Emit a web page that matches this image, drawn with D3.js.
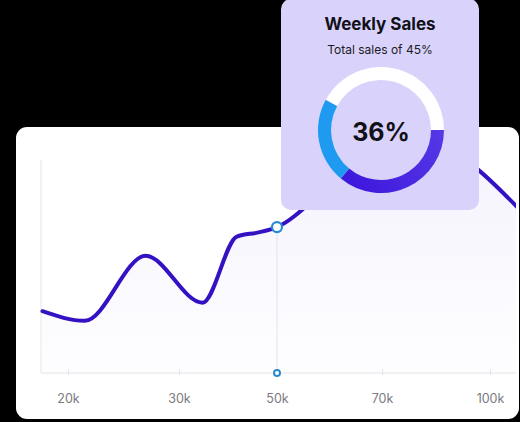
<!DOCTYPE html>
<html>
<head>
<meta charset="utf-8">
<script src="https://cdn.jsdelivr.net/npm/d3@7"></script>
<style>
  html, body { margin: 0; padding: 0; background: #000; }
  svg { display: block; font-family: Inter, "Open Sans", sans-serif; }
</style>
</head>
<body>
<div id="chart"></div>
<script>
// x categories and the sales curve, x given in category index units
const categories = ["20k", "30k", "50k", "70k", "100k"];
const curveX = [-0.23, 0.15, 0.7, 1.24, 1.59, 1.81, 2.0, 2.5, 3.0, 3.36, 3.9, 4.25];
const curveY = [29, 24.5, 55, 33, 64, 66, 68.5, 88, 107, 113, 95, 78];
const highlightIndex = 2;
const highlightValue = 68.5;

// donut card
const donutTitle = "Weekly Sales";
const donutSubtitle = "Total sales of 45%";
const donutCenterLabel = "36%";
const donutParts = [
  { name: "main", value: 36 },
  { name: "other", value: 22 },
  { name: "rest", value: 42 }
];
const donutColors = ["url(#mainGrad)", "#1e9bf0", "#ffffff"];

const width = 520;
const height = 422;

const svg = d3.select("#chart").append("svg")
  .attr("width", width)
  .attr("height", height);

svg.append("rect")
  .attr("width", width).attr("height", height)
  .attr("fill", "#000");

// main white card
const card = { x: 16, y: 127, w: 503, h: 292 };
svg.append("rect")
  .attr("x", card.x).attr("y", card.y)
  .attr("width", card.w).attr("height", card.h)
  .attr("rx", 11)
  .attr("fill", "#fff");

const defs = svg.append("defs");
defs.append("clipPath").attr("id", "cardClip")
  .append("rect")
  .attr("x", card.x).attr("y", card.y)
  .attr("width", card.w - 3).attr("height", card.h);

const areaGrad = defs.append("linearGradient")
  .attr("id", "areaGrad")
  .attr("x1", 0).attr("y1", 0).attr("x2", 0).attr("y2", 1);
areaGrad.append("stop").attr("offset", "0%").attr("stop-color", "#7b63e6").attr("stop-opacity", 0.08);
areaGrad.append("stop").attr("offset", "100%").attr("stop-color", "#7b63e6").attr("stop-opacity", 0.01);

const mainGrad = defs.append("linearGradient")
  .attr("id", "mainGrad")
  .attr("gradientUnits", "userSpaceOnUse")
  .attr("x1", 60).attr("y1", 0).attr("x2", -40).attr("y2", 60);
mainGrad.append("stop").attr("offset", "0%").attr("stop-color", "#5638e6");
mainGrad.append("stop").attr("offset", "100%").attr("stop-color", "#3c14dc");

const plot = { left: 41, right: 517, top: 160, bottom: 373 };

// category positions are not evenly spaced in the picture
const x = d3.scaleLinear()
  .domain([0, 1, 2, 3, 4])
  .range([68, 179, 277, 382, 490]);

const y = d3.scaleLinear()
  .domain([0, 100])
  .range([plot.bottom, plot.bottom - 213]);

const points = curveX.map((v, i) => [v, curveY[i]]);

const g = svg.append("g").attr("clip-path", "url(#cardClip)");

// area under curve
g.append("path")
  .datum(points)
  .attr("fill", "url(#areaGrad)")
  .attr("d", d3.area()
    .curve(d3.curveMonotoneX)
    .x(d => Math.max(plot.left, x(d[0])))
    .y0(plot.bottom)
    .y1(d => y(d[1])));

// y axis line
g.append("line")
  .attr("x1", plot.left).attr("x2", plot.left)
  .attr("y1", plot.top).attr("y2", plot.bottom)
  .attr("stroke", "#eeeef2")
  .attr("stroke-width", 1.5);

// x axis
const xAxis = d3.axisBottom(x)
  .tickValues(d3.range(categories.length))
  .tickFormat(i => categories[i])
  .tickSize(5)
  .tickPadding(16);

const axisG = g.append("g")
  .attr("transform", `translate(0,${plot.bottom})`)
  .call(xAxis);
axisG.select(".domain").remove();
axisG.insert("line", ":first-child")
  .attr("x1", plot.left).attr("x2", plot.right)
  .attr("stroke", "#ececf0")
  .attr("stroke-width", 1.5);
axisG.selectAll(".tick line")
  .attr("stroke", "#e4e4ea")
  .attr("y1", -4).attr("y2", 2);
axisG.selectAll(".tick text")
  .attr("fill", "#7a7a80")
  .attr("font-size", 12.5)
  .attr("font-family", "Inter, sans-serif");

// guide line for highlighted point
g.append("line")
  .attr("x1", x(highlightIndex)).attr("x2", x(highlightIndex))
  .attr("y1", y(highlightValue)).attr("y2", plot.bottom)
  .attr("stroke", "#dce6f2")
  .attr("stroke-width", 1);

// curve
g.append("path")
  .datum(points)
  .attr("fill", "none")
  .attr("stroke", "#3411c2")
  .attr("stroke-width", 4)
  .attr("stroke-linecap", "round")
  .attr("d", d3.line()
    .curve(d3.curveMonotoneX)
    .x(d => x(d[0]))
    .y(d => y(d[1])));

// markers
g.append("circle")
  .attr("cx", x(highlightIndex)).attr("cy", y(highlightValue))
  .attr("r", 5)
  .attr("fill", "#fff")
  .attr("stroke", "#2a8ad0")
  .attr("stroke-width", 2.2);
g.append("circle")
  .attr("cx", x(highlightIndex)).attr("cy", plot.bottom)
  .attr("r", 3)
  .attr("fill", "#fff")
  .attr("stroke", "#2a8ad0")
  .attr("stroke-width", 2);

// weekly sales card
const wCard = { x: 281, y: -1, w: 198, h: 211 };
svg.append("rect")
  .attr("x", wCard.x).attr("y", wCard.y)
  .attr("width", wCard.w).attr("height", wCard.h)
  .attr("rx", 10)
  .attr("fill", "#d9d3fb");

const cx = wCard.x + wCard.w / 2;

svg.append("text")
  .attr("x", cx).attr("y", 30)
  .attr("text-anchor", "middle")
  .attr("font-size", 17)
  .attr("font-weight", 700)
  .attr("fill", "#121018")
  .text(donutTitle);

svg.append("text")
  .attr("x", cx).attr("y", 54)
  .attr("text-anchor", "middle")
  .attr("font-size", 12)
  .attr("fill", "#1c1a24")
  .text(donutSubtitle);

const pie = d3.pie()
  .sort(null)
  .value(d => d.value)
  .startAngle(Math.PI / 2)
  .endAngle(Math.PI / 2 + 2 * Math.PI);

const arc = d3.arc().innerRadius(50).outerRadius(63);

const donut = svg.append("g")
  .attr("transform", `translate(${cx + 1},130)`);

donut.selectAll("path")
  .data(pie(donutParts))
  .join("path")
  .attr("d", arc)
  .attr("fill", (d, i) => donutColors[i]);

donut.append("text")
  .attr("y", 11)
  .attr("text-anchor", "middle")
  .attr("font-size", 25)
  .attr("font-weight", 700)
  .attr("fill", "#121018")
  .text(donutCenterLabel);
</script>
</body>
</html>
